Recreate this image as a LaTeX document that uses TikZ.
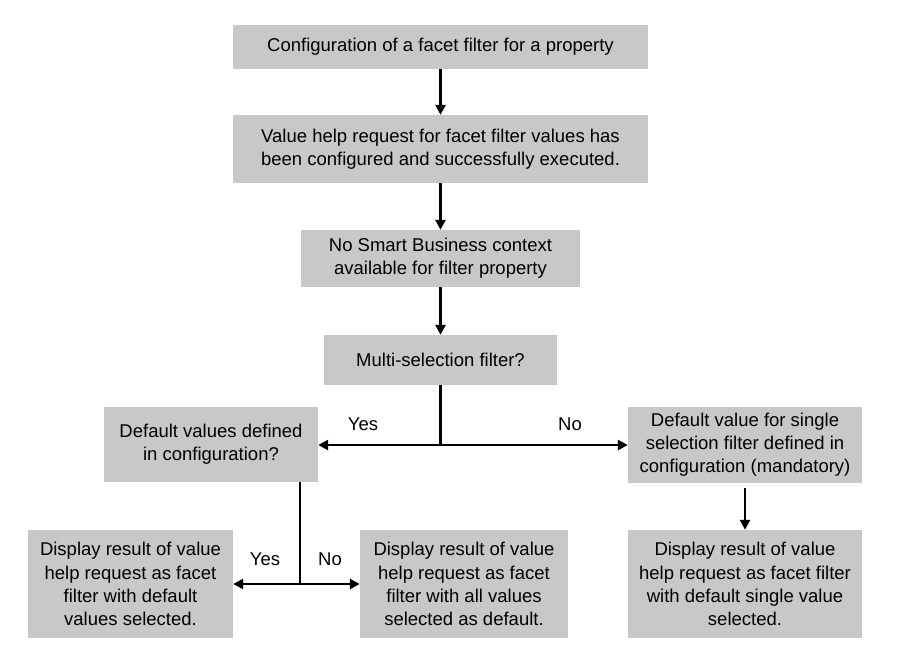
\documentclass[tikz,border=0pt]{standalone}
\usepackage{fontspec}
\setmainfont{Liberation Sans}
\usetikzlibrary{arrows.meta}
\definecolor{boxgray}{RGB}{200,200,200}
\tikzset{
  box/.style={fill=boxgray, inner sep=0pt, align=center, font=\fontsize{18.5}{23.2}\selectfont},
  lbl/.style={inner sep=0pt, font=\fontsize{18.5}{23.2}\selectfont},
  arr/.style={line width=2.8pt, -{Triangle[length=10pt,width=10pt]}},
  ln/.style={line width=2.8pt}
}
\begin{document}
\begin{tikzpicture}[x=1pt,y=-1pt]
\useasboundingbox[fill=white] (0,0) rectangle (904,667);
\node[box, minimum width=415pt, minimum height=44pt] (b1) at (440.5,47) {Configuration of a facet filter for a property};
\node[box, minimum width=415pt, minimum height=68pt] (b2) at (440.5,149) {Value help request for facet filter values has\\been configured and successfully executed.};
\node[box, minimum width=279pt, minimum height=57pt] (b3) at (440.5,258.5) {No Smart Business context\\available for filter property};
\node[box, minimum width=233pt, minimum height=50pt] (b4) at (440.5,360) {Multi-selection filter?};
\node[box, minimum width=214pt, minimum height=75pt] (b5) at (211,444.5) {Default values defined\\in configuration?};
\node[box, minimum width=234pt, minimum height=76pt] (b6) at (745,445) {Default value for single\\selection filter defined in\\configuration (mandatory)};
\node[box, minimum width=205pt, minimum height=108pt] (b7) at (130.5,584) {Display result of value\\help request as facet\\filter with default\\values selected.};
\node[box, minimum width=208pt, minimum height=108pt] (b8) at (464,584) {Display result of value\\help request as facet\\filter with all values\\selected as default.};
\node[box, minimum width=234pt, minimum height=108pt] (b9) at (745,584) {Display result of value\\help request as facet filter\\with default single value\\selected.};
\coordinate (j1) at (440.5,445);
\coordinate (j2) at (300,584);
\draw[arr] (b1) -- (b2);
\draw[arr] (b2) -- (b3);
\draw[arr] (b3) -- (b4);
\draw[ln] (b4.south) -- (j1);
\draw[arr] (j1) -- (b5.east |- j1);
\draw[arr] (j1) -- (b6.west |- j1);
\draw[ln] (b5.south -| j2) -- (j2);
\draw[arr] (j2) -- (b7.east |- j2);
\draw[arr] (j2) -- (b8.west |- j2);
\draw[arr, shorten <=5pt] (b6) -- (b9);
\node[lbl] (y1) at (363,424) {Yes};
\node[lbl] (n1) at (570,424) {No};
\node[lbl] (y2) at (265,559) {Yes};
\node[lbl] (n2) at (330,559) {No};
\end{tikzpicture}
\end{document}
